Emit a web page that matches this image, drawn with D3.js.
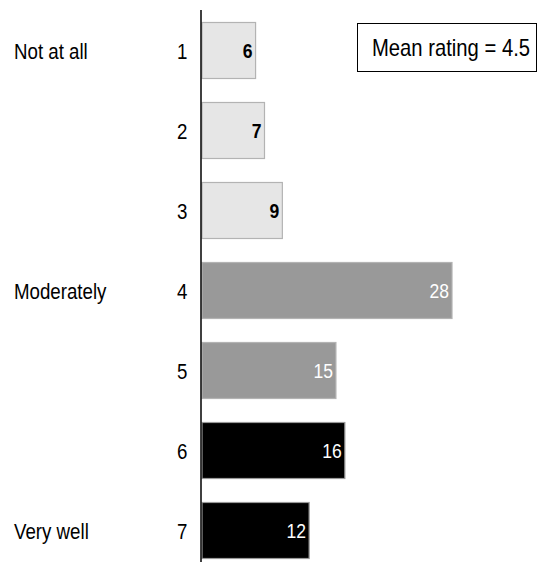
<!DOCTYPE html>
<html>
<head>
<meta charset="utf-8">
<script src="https://cdn.jsdelivr.net/npm/d3@7"></script>
<style>
  html, body { margin: 0; padding: 0; background: #fff; }
  svg { display: block; }
  text { font-family: "Liberation Sans", Arial, sans-serif; }
</style>
</head>
<body>
<svg id="chart" width="543" height="564"></svg>
<script>
// Rating scale 1..7 and share of responses per rating
const ratings = ["1", "2", "3", "4", "5", "6", "7"];
const values = [6, 7, 9, 28, 15, 16, 12];
// Group of each rating: low (1-3), middle (4-5), high (6-7)
const groups = ["low", "low", "low", "mid", "mid", "high", "high"];
// Verbal anchors shown next to selected ratings
const anchorRatings = ["1", "4", "7"];
const anchorLabels = ["Not at all", "Moderately", "Very well"];
const meanRating = 4.5;

const fills = { low: "#e6e6e6", mid: "#999999", high: "#000000" };
const strokes = { low: "#b3b3b3", mid: "#b3b3b3", high: "#999999" };
const labelColors = { low: "#000000", mid: "#ffffff", high: "#ffffff" };

// Narrow look: regular sans squeezed horizontally
const NARROW = 0.85;

const svg = d3.select("#chart");

const x0 = 202;
const x = d3.scaleLinear().domain([0, 28]).range([x0, x0 + 250]);
const y = d3.scaleBand().domain(ratings).range([22, 559]).paddingInner(0.2875).paddingOuter(0);

function narrowText(sel, tx, ty, k = NARROW) {
  return sel.attr("transform", (d, i) => `translate(${tx(d, i)},${ty(d, i)}) scale(${k},1)`);
}

// Bars
svg.append("g").selectAll("rect")
  .data(values)
  .join("rect")
  .attr("x", x(0))
  .attr("y", (d, i) => y(ratings[i]) + 0.5)
  .attr("width", d => x(d) - x(0))
  .attr("height", y.bandwidth() - 1)
  .attr("fill", (d, i) => fills[groups[i]])
  .attr("stroke", (d, i) => strokes[groups[i]])
  .attr("stroke-width", 1.2);

// Value labels inside bar ends
svg.append("g").selectAll("text")
  .data(values)
  .join("text")
  .call(narrowText, d => x(d) - 3, (d, i) => y(ratings[i]) + y.bandwidth() / 2 + 7.5, 0.9)
  .attr("text-anchor", "end")
  .attr("font-family", "'DejaVu Sans', sans-serif")
  .attr("font-size", 19.5)
  .attr("font-weight", (d, i) => groups[i] === "low" ? 700 : 400)
  .attr("fill", (d, i) => labelColors[groups[i]])
  .text(d => d);

// Rating numbers left of the axis line
svg.append("g").selectAll("text")
  .data(ratings)
  .join("text")
  .call(narrowText, () => 187.5, d => y(d) + y.bandwidth() / 2 + 8)
  .attr("text-anchor", "end")
  .attr("font-size", 22)
  .attr("fill", "#000")
  .text(d => d);

svg.append("line")
  .attr("x1", x0 - 1).attr("x2", x0 - 1)
  .attr("y1", 10).attr("y2", 562)
  .attr("stroke", "#000").attr("stroke-width", 1.5);

// Verbal anchors
svg.append("g").selectAll("text")
  .data(anchorLabels)
  .join("text")
  .call(narrowText, () => 14, (d, i) => y(anchorRatings[i]) + y.bandwidth() / 2 + 8)
  .attr("font-size", 22)
  .attr("fill", "#000")
  .text(d => d);

// Mean rating box
const box = svg.append("g").attr("transform", "translate(357.5,23.5)");
box.append("rect").attr("width", 179).attr("height", 48)
  .attr("fill", "#fff").attr("stroke", "#000").attr("stroke-width", 1);
box.append("text")
  .attr("transform", "translate(93.5,32) scale(0.88,1)")
  .attr("text-anchor", "middle")
  .attr("font-size", 23)
  .attr("fill", "#000")
  .text(`Mean rating = ${meanRating}`);
</script>
</body>
</html>
